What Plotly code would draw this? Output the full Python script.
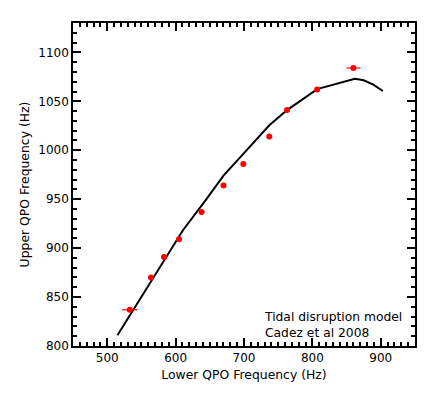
import plotly.graph_objects as go

# measured QPO pairs (Hz)
lower = [533, 564, 583, 605, 638, 670, 699, 737, 763, 807, 860]
upper = [837, 870, 891, 909, 937, 964, 986, 1014, 1041, 1062, 1084]
lower_err = [11, 0, 0, 0, 0, 0, 0, 0, 0, 0, 10]

# tidal disruption model curve
model_lower = [515, 611, 644, 670, 700, 737, 763, 807, 862, 875, 889, 903]
model_upper = [811, 918.5, 949, 974, 997, 1025.5, 1041, 1062.5, 1073, 1071.5, 1067, 1060.5]

fnt = "DejaVu Sans"

fig = go.Figure()
fig.add_trace(go.Scatter(x=model_lower, y=model_upper, mode="lines",
                         line=dict(color="black", width=2), showlegend=False))
fig.add_trace(go.Scatter(x=lower, y=upper, mode="markers",
                         marker=dict(color="#ff0000", size=6),
                         error_x=dict(type="data", array=lower_err, color="#ff0000",
                                      thickness=1.2, width=0),
                         showlegend=False))

fig.update_xaxes(range=[450, 950], dtick=100,
                 ticks="inside", ticklen=8, tickwidth=2, tickcolor="black",
                 showline=True, linecolor="black", linewidth=1.5, mirror="allticks",
                 minor=dict(ticks="inside", ticklen=4, tickwidth=1.5, tickcolor="black", dtick=10),
                 tickfont=dict(family=fnt, size=12, color="black"),
                 title=dict(text="Lower QPO Frequency (Hz)", standoff=6,
                            font=dict(family=fnt, size=12.4, color="black")))
fig.update_yaxes(range=[800, 1130], dtick=50,
                 ticks="inside", ticklen=8, tickwidth=2, tickcolor="black",
                 showline=True, linecolor="black", linewidth=1.5, mirror="allticks",
                 minor=dict(ticks="inside", ticklen=4, tickwidth=1.5, tickcolor="black", dtick=10),
                 tickfont=dict(family=fnt, size=12, color="black"),
                 title=dict(text="Upper QPO Frequency (Hz)", standoff=6,
                            font=dict(family=fnt, size=12.4, color="black")))

fig.add_annotation(x=0.552, y=0.065, xref="paper", yref="paper",
                   xanchor="left", yanchor="middle", align="left", showarrow=False,
                   text="Tidal disruption model<br>Cadez et al 2008",
                   font=dict(family=fnt, size=12.3, color="black"))

# page body adds an 8px offset, so shrink the figure to fit the window
fig.update_layout(width=428, height=385, margin=dict(l=65, r=21, t=15, b=47),
                  plot_bgcolor="white")

fig.write_html("out.html")
